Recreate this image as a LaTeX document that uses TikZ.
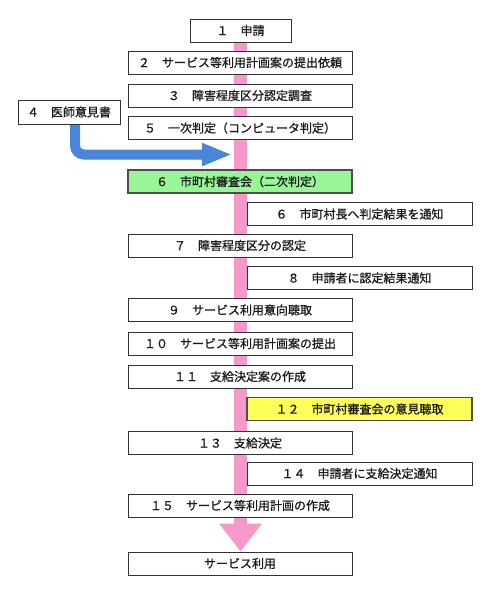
\documentclass[tikz,border=0pt]{standalone}
\usepackage{fontspec}
\setmainfont{Noto Sans CJK JP}[FakeBold=0.8,AutoFakeBold=0.8]
\usetikzlibrary{arrows.meta,backgrounds}
\definecolor{flowpink}{RGB}{246,152,202}
\definecolor{flowblue}{RGB}{74,134,214}
\definecolor{boxgreen}{RGB}{152,246,152}
\definecolor{boxyellow}{RGB}{255,255,90}
\definecolor{boxline}{RGB}{50,50,50}
\begin{document}
\begin{tikzpicture}[x=1pt,y=-1pt,
  stepbox/.style={draw=boxline,line width=0.9pt,fill=white,minimum height=23pt,
    inner sep=0pt,font=\fontsize{12pt}{14pt}\selectfont\bfseries,text=black!90},
  widebox/.style={stepbox,minimum width=224pt},
  sidebox/.style={stepbox,minimum width=225pt},
  greenbox/.style={widebox,fill=boxgreen,draw=black!70,line width=1.6pt},
  yellowbox/.style={sidebox,fill=boxyellow,draw=black!70,line width=1.6pt},
  pinkflow/.style={flowpink,line width=13.5pt,-{Triangle[width=41pt,length=28pt]}},
  blueflow/.style={flowblue,line width=10pt,rounded corners=9pt,-{Triangle[width=21pt,length=30pt]}}]
\useasboundingbox (0,0) rectangle (493,600);

\node[stepbox,minimum width=101pt] (b1) at (240.5,30.5) {１　申請};
\node[stepbox,minimum width=102pt,minimum height=24pt] (b4) at (69,112) {４　医師意見書};
\node[widebox] (b2) at (240,62.5) {２　サービス等利用計画案の提出依頼};
\node[widebox] (b3) at (240,95.5) {３　障害程度区分認定調査};
\node[widebox] (b5) at (240,128) {５　一次判定（コンピュータ判定）};
\node[greenbox] (b6) at (240,181.5) {６　市町村審査会（二次判定）};
\node[sidebox] (b6b) at (359.5,214) {６　市町村長へ判定結果を通知};
\node[widebox] (b7) at (240,245.5) {７　障害程度区分の認定};
\node[sidebox] (b8) at (359.5,278) {８　申請者に認定結果通知};
\node[widebox] (b9) at (240,310) {９　サービス利用意向聴取};
\node[widebox] (b10) at (240,343.5) {１０　サービス等利用計画案の提出};
\node[widebox] (b11) at (240,376.5) {１１　支給決定案の作成};
\node[yellowbox] (b12) at (359.5,409) {１２　市町村審査会の意見聴取};
\node[widebox] (b13) at (240,443) {１３　支給決定};
\node[sidebox] (b14) at (359.5,473.5) {１４　申請者に支給決定通知};
\node[widebox] (b15) at (240,505.5) {１５　サービス等利用計画の作成};
\node[widebox] (end) at (240,563.5) {サービス利用};

\coordinate (btip) at (232,154.5);
\begin{scope}[on background layer]
\fill[white] (0,0) rectangle (493,600);
\draw[pinkflow] (b1.south) -- ([xshift=0.5pt]end.north);
\draw[blueflow] ([xshift=6pt]b4.south) |- (btip);
\end{scope}
\end{tikzpicture}
\end{document}
